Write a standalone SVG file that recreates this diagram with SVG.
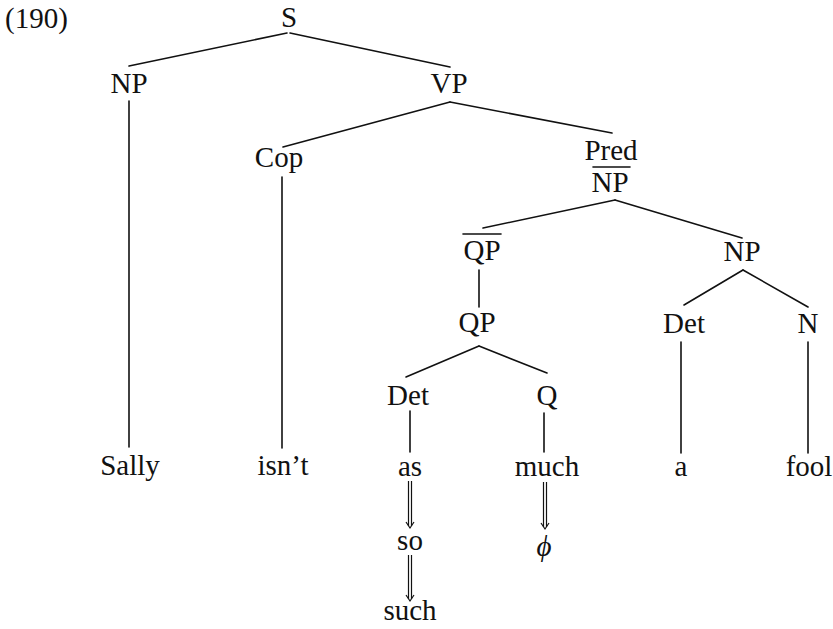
<svg xmlns="http://www.w3.org/2000/svg" width="833" height="629" viewBox="0 0 833 629">
<style>
text{font-family:"Liberation Serif","Times New Roman",serif;font-size:29px;fill:#111;text-anchor:middle}
.l{stroke:#111;stroke-width:1.6;fill:none;stroke-linecap:round}
.d{stroke:#111;stroke-width:1.2;fill:none}
</style>
<rect width="833" height="629" fill="#fff"/>
<text x="5" y="28" style="text-anchor:start">(190)</text>
<g id="connectors">
<line class="l" x1="287" y1="33" x2="129" y2="66"/>
<line class="l" x1="290" y1="33" x2="450" y2="67"/>
<line class="l" x1="129" y1="101" x2="129" y2="447"/>
<line class="l" x1="450" y1="102" x2="283" y2="147"/>
<line class="l" x1="450" y1="102" x2="612" y2="133"/>
<line class="l" x1="282" y1="177" x2="282" y2="448"/>
<line class="l" x1="615" y1="200" x2="483" y2="228"/>
<line class="l" x1="615" y1="200" x2="742" y2="238"/>
<line class="l" x1="479" y1="270" x2="479" y2="307"/>
<line class="l" x1="479" y1="346" x2="406" y2="377"/>
<line class="l" x1="479" y1="346" x2="547" y2="373"/>
<line class="l" x1="743" y1="270" x2="684" y2="305"/>
<line class="l" x1="743" y1="270" x2="808" y2="307"/>
<line class="l" x1="410" y1="411" x2="410" y2="452"/>
<line class="l" x1="544" y1="413" x2="544" y2="452"/>
<line class="l" x1="681" y1="342" x2="681" y2="453"/>
<line class="l" x1="808" y1="342" x2="808" y2="453"/>
<g id="arrow-as-so">
<line class="d" x1="408.5" y1="481" x2="408.5" y2="526"/>
<line class="d" x1="411.5" y1="481" x2="411.5" y2="526"/>
<polyline class="d" points="406,522 410,528 414,522"/>
</g>
<g id="arrow-so-such">
<line class="d" x1="408.5" y1="555" x2="408.5" y2="599"/>
<line class="d" x1="411.5" y1="555" x2="411.5" y2="599"/>
<polyline class="d" points="406,595 410,601 414,595"/>
</g>
<g id="arrow-much-phi">
<line class="d" x1="543.5" y1="482" x2="543.5" y2="527"/>
<line class="d" x1="546.5" y1="482" x2="546.5" y2="527"/>
<polyline class="d" points="541,523 545,529 549,523"/>
</g>
</g>
<g id="S"><text x="289" y="27">S</text></g>
<g id="NP1"><text x="129" y="93">NP</text></g>
<g id="VP"><text x="449" y="93">VP</text></g>
<g id="Cop"><text x="279" y="167">Cop</text></g>
<g id="PredNPbar"><text x="611" y="160">Pred</text><line class="l" x1="593" y1="167" x2="630" y2="167"/><text x="610" y="192">NP</text></g>
<g id="QPbar"><line class="l" x1="463" y1="234" x2="501" y2="234"/><text x="482" y="260">QP</text></g>
<g id="NP2"><text x="742" y="261">NP</text></g>
<g id="QP"><text x="477" y="332">QP</text></g>
<g id="Det1"><text x="408" y="405">Det</text></g>
<g id="Q"><text x="547" y="405">Q</text></g>
<g id="Det2"><text x="684" y="333">Det</text></g>
<g id="N"><text x="808" y="333">N</text></g>
<g id="Sally"><text x="130" y="475">Sally</text></g>
<g id="isnt"><text x="283" y="475">isn’t</text></g>
<g id="as"><text x="410" y="476">as</text></g>
<g id="much"><text x="547" y="476">much</text></g>
<g id="a"><text x="681" y="476">a</text></g>
<g id="fool"><text x="809" y="476">fool</text></g>
<g id="so"><text x="410" y="550">so</text></g>
<g id="phi"><text x="544" y="556" style="font-style:italic">ϕ</text></g>
<g id="such"><text x="410" y="620">such</text></g>
</svg>
